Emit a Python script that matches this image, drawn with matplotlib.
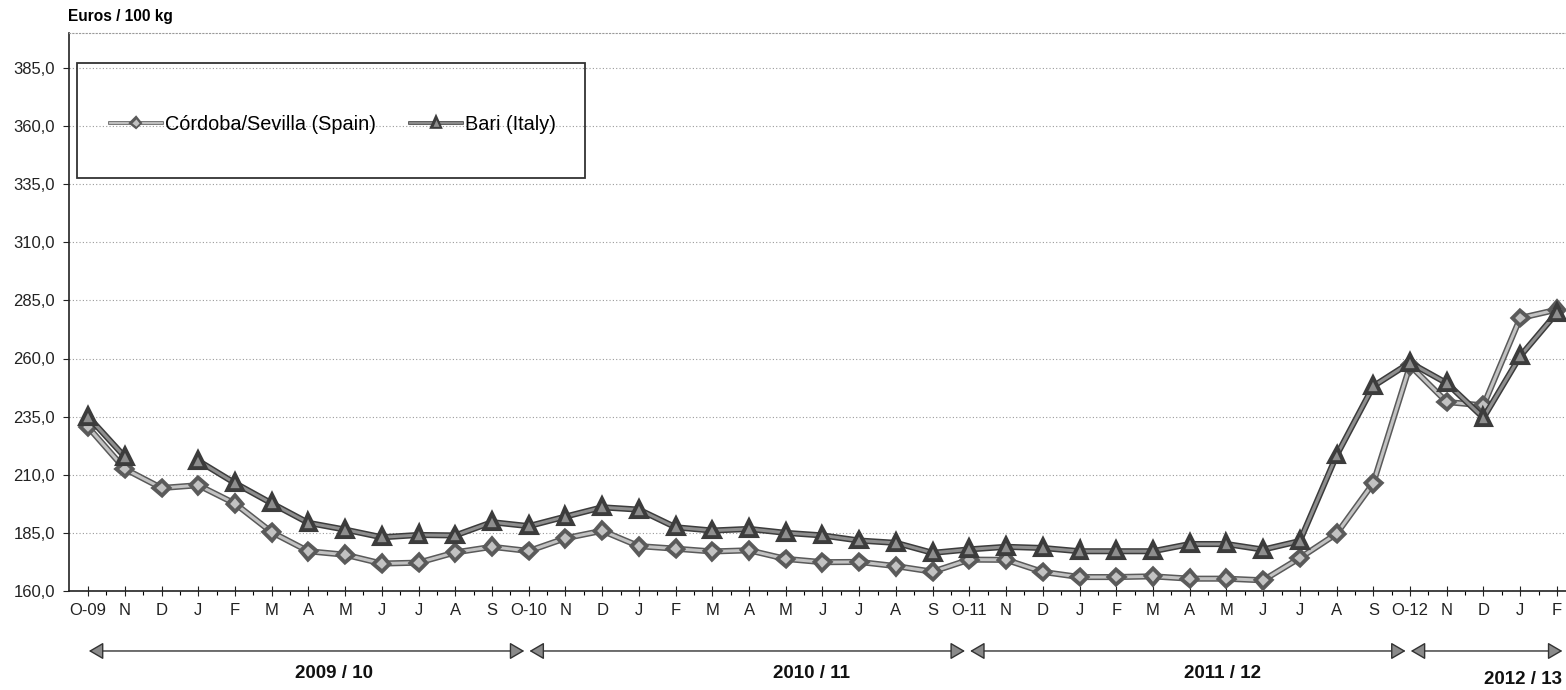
import matplotlib

matplotlib.use("Agg")
import matplotlib.pyplot as plt
import matplotlib.patheffects as pe
from matplotlib.lines import Line2D
from matplotlib.patches import Rectangle
from matplotlib.ticker import FixedLocator, FuncFormatter
import numpy as np

plt.rcParams["font.family"] = ["Liberation Sans", "DejaVu Sans"]

# monthly prices, Oct 2009 .. Feb 2013 (euros / 100 kg)
months = [
    "O-09", "N", "D", "J", "F", "M", "A", "M", "J", "J", "A", "S",
    "O-10", "N", "D", "J", "F", "M", "A", "M", "J", "J", "A", "S",
    "O-11", "N", "D", "J", "F", "M", "A", "M", "J", "J", "A", "S",
    "O-12", "N", "D", "J", "F",
]
spain = [
    230.5, 212.5, 204.3, 205.5, 197.6, 185.3, 177.1, 175.6, 171.8, 172.2, 176.6, 179.0,
    177.2, 182.7, 185.9, 179.3, 178.2, 177.0, 177.5, 173.8, 172.4, 172.5, 170.7, 168.3,
    173.5, 173.4, 168.2, 166.0, 166.0, 166.3, 165.3, 165.3, 164.6, 174.2, 184.6, 206.4,
    257.0, 241.3, 239.8, 277.4, 281.0,
]
bari = [
    235.0, 217.7, np.nan, 216.0, 206.4, 197.7, 189.3, 186.4, 183.1, 184.1, 183.9, 189.6,
    187.9, 192.0, 196.0, 195.0, 187.4, 186.0, 186.7, 185.0, 183.9, 181.7, 180.7, 176.4,
    177.9, 179.0, 178.5, 177.1, 177.1, 177.1, 180.2, 180.2, 177.8, 181.5, 218.3, 248.1,
    258.2, 249.4, 234.5, 261.0, 279.7,
]
y_ticks = [160, 185, 210, 235, 260, 285, 310, 335, 360, 385]

# marketing seasons: (label, first month index, last month index)
seasons = [
    ("2009 / 10", 0, 11),
    ("2010 / 11", 12, 23),
    ("2011 / 12", 24, 35),
    ("2012 / 13", 36, 40),
]

W, H = 1566, 690
fig = plt.figure(figsize=(W / 100, H / 100), dpi=100)
ax = fig.add_axes([69 / W, (H - 591) / H, (1576 - 69) / W, (591 - 33) / H])

x = np.arange(len(months))

styles = {
    "spain": dict(marker="D", inner="#c2c2c2", outer="#5a5a5a", ms=6.5),
    "bari": dict(marker="^", inner="#8e8e8e", outer="#3c3c3c", ms=8.5),
}


def draw_series(values, st):
    ax.plot(
        x, values, color=st["inner"], lw=2.2, marker=st["marker"], ms=st["ms"],
        mfc=st["inner"], mec=st["outer"], mew=1.2, zorder=3,
        path_effects=[pe.Stroke(linewidth=4.4, foreground=st["outer"]), pe.Normal()],
    )


def legend_handle(st, label):
    return Line2D(
        [], [], color=st["inner"], lw=1.4, marker=st["marker"], ms=st["ms"] * 0.7,
        mfc=st["inner"], mec=st["outer"], mew=0.9, label=label,
        path_effects=[pe.Stroke(linewidth=2.6, foreground=st["outer"]), pe.Normal()],
    )


draw_series(spain, styles["spain"])
draw_series(bari, styles["bari"])

ax.set_xlim(-0.52, 40.52)
ax.set_ylim(160, 400)

ax.yaxis.set_major_locator(FixedLocator(y_ticks))
ax.yaxis.set_major_formatter(FuncFormatter(lambda v, _: f"{v:.1f}".replace(".", ",")))
ax.set_xticks(x)
ax.set_xticklabels(months)
ax.set_xticks(x[:-1] + 0.5, minor=True)

ax.tick_params(axis="y", direction="out", length=4, width=0.8, pad=6, labelsize=12, colors="#222222")
ax.tick_params(axis="x", which="major", direction="inout", length=7, width=0.8, pad=5, labelsize=12,
               colors="#222222")
ax.tick_params(axis="x", which="minor", direction="out", length=3, width=0.8)

ax.grid(True, axis="y", linestyle=(0, (1, 2)), color="#9a9a9a", lw=0.8)
ax.set_axisbelow(True)
for side in ("left", "bottom"):
    ax.spines[side].set_color("#222222")
    ax.spines[side].set_linewidth(1.2)
ax.spines["right"].set_visible(False)
ax.spines["top"].set_linestyle((0, (1, 2)))
ax.spines["top"].set_color("#9a9a9a")
ax.spines["top"].set_linewidth(0.8)

fig.text(68 / W, 1 - 17 / H, "Euros / 100 kg", fontsize=11.2, fontweight="bold", ha="left", va="center")

# legend inside a plain framed box
fig.patches.append(Rectangle((77 / W, 1 - 178 / H), (585 - 77) / W, (178 - 63) / H,
                             transform=fig.transFigure, fill=False, ec="#333333", lw=1.3))
fig.legend(
    handles=[legend_handle(styles["spain"], "Córdoba/Sevilla (Spain)"),
             legend_handle(styles["bari"], "Bari (Italy)")],
    loc="center left", bbox_to_anchor=(110 / W, 1 - 124 / H),
    ncol=2, frameon=False, fontsize=14.3, handlelength=2.6, handletextpad=0.15,
    columnspacing=1.75, borderaxespad=0, borderpad=0,
)

# season arrows under the month axis
for label, start, end in seasons:
    x0 = start + 0.02
    x1 = end + (0.15 if end == len(months) - 1 else 0.88)
    ax.annotate(
        "", xy=(x1, -0.1075), xytext=(x0, -0.1075),
        xycoords=ax.get_xaxis_transform(), textcoords=ax.get_xaxis_transform(),
        arrowprops=dict(arrowstyle="<|-|>,head_length=0.6,head_width=0.35", mutation_scale=15,
                        lw=1.0, color="#333333", fc="#8a8a8a", shrinkA=0, shrinkB=0),
        annotation_clip=False,
    )
label_pos = [(6.7, -0.147), (19.7, -0.147), (30.9, -0.147), (39.08, -0.159)]
for (label, start, end), (lx, ly) in zip(seasons, label_pos):
    ax.text(lx, ly, label, transform=ax.get_xaxis_transform(), ha="center", va="center",
            fontsize=13.5, fontweight="bold", color="#111111", clip_on=False)

fig.savefig("out.png", dpi=100)
